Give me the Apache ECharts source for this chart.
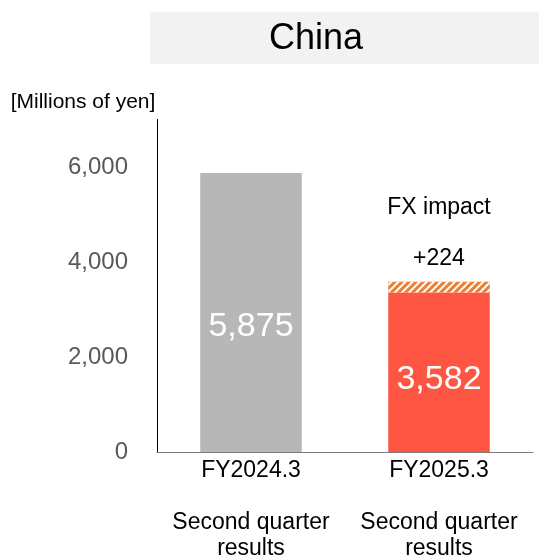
<!DOCTYPE html>
<html><head><meta charset="utf-8">
<script src="https://cdn.jsdelivr.net/npm/echarts@6/dist/echarts.min.js"></script>
<style>html,body{margin:0;padding:0;background:#fff}#c{width:539px;height:558px}</style>
</head><body><div id="c"></div>
<script>
const categories = ['FY2024.3', 'FY2025.3'];
const subLabels = ['Second quarter\nresults', 'Second quarter\nresults'];
const totals = [5875, 3582];
const fxImpact = [null, 224];
const baseValues = [5875, 3358];
const barColors = ['#B7B7B7', '#FF5643'];
const yTicks = [0, 2000, 4000, 6000];
const fmt = v => v.toLocaleString('en-US');

const chart = echarts.init(document.getElementById('c'));
chart.setOption({
  animation: false,
  textStyle: { fontFamily: 'Liberation Sans, Arial, sans-serif' },
  graphic: [
    { type: 'rect', shape: { x: 150, y: 12, width: 389, height: 52 }, style: { fill: '#F2F2F2' }, z: 0 },
    { type: 'text', x: 316, y: 39, style: { text: 'China', font: '36px Liberation Sans, Arial, sans-serif', fill: '#000', align: 'center', verticalAlign: 'middle' } },
    { type: 'text', x: 83, y: 102, style: { text: '[Millions of yen]', font: '21px Liberation Sans, Arial, sans-serif', fill: '#000', align: 'center', verticalAlign: 'middle' } }
  ],
  grid: { left: 157, right: 6, top: 119.5, bottom: 106, containLabel: false, outerBoundsMode: 'none' },
  xAxis: {
    type: 'category', data: categories,
    axisLine: { lineStyle: { color: '#7f7f7f', width: 1 } },
    axisTick: { show: false },
    axisLabel: {
      interval: 0, hideOverlap: false,
      margin: 6, color: '#000', fontSize: 23, lineHeight: 26,
      formatter: (v, i) => v + '\n\n' + subLabels[i]
    }
  },
  yAxis: {
    type: 'value', min: 0, max: 7000, interval: 2000,
    axisLine: { show: true, lineStyle: { color: '#000', width: 1 } },
    axisTick: { show: false },
    splitLine: { show: false },
    axisLabel: { color: '#595959', fontSize: 24, margin: 29, formatter: v => yTicks.includes(v) ? fmt(v) : '' }
  },
  series: [
    {
      type: 'bar', stack: 's', barWidth: '54%',
      data: baseValues.map((v, i) => ({
        value: v,
        itemStyle: { color: barColors[i] },
        label: { offset: [0, i === 0 ? 14 : 7] }
      })),
      label: {
        show: true, position: 'inside', color: '#fff', fontSize: 34,
        formatter: p => fmt(totals[p.dataIndex])
      }
    },
    {
      type: 'bar', stack: 's', barWidth: '54%',
      data: fxImpact,
      itemStyle: {
        color: '#ED7D31',
        decal: { symbol: 'rect', color: '#ffffff', dashArrayX: [1, 0], dashArrayY: [2, 3], rotation: -Math.PI / 4, symbolSize: 1 }
      },
      label: {
        show: true, position: 'top', distance: -2, color: '#000', fontSize: 23, lineHeight: 51,
        formatter: p => 'FX impact\n+' + fmt(p.value)
      }
    }
  ]
});
</script></body></html>
